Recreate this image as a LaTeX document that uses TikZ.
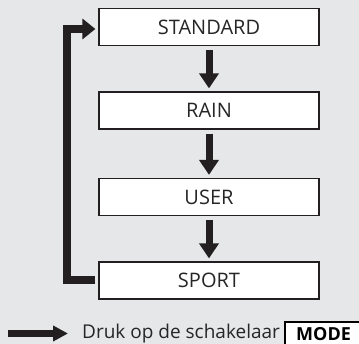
\documentclass[tikz,border=0pt]{standalone}
\usepackage{fontspec}
\setmainfont{Open Sans}
\usetikzlibrary{arrows.meta,calc}
\definecolor{bgc}{HTML}{E6E7E8}
\definecolor{ink}{HTML}{231F20}
\begin{document}
\begin{tikzpicture}[x=1pt,y=-1pt,
  modebox/.style={draw=ink,fill=white,line width=1.2pt,minimum width=220pt,minimum height=37pt,inner sep=0pt,
    font=\fontsize{20}{22}\selectfont,text=black!85},
  fat/.style={draw=ink,line width=7pt,-{Triangle[width=19pt,length=15pt]}},
  loopline/.style={draw=ink,line width=8pt,line join=miter,-{Triangle[width=20pt,length=13pt]}}]
\useasboundingbox (0,0) rectangle (359,344);
\clip (0,0) rectangle (359,344);
\fill[bgc] (0,0) rectangle (359,344);
\node[modebox] (std) at (209,27) {STANDARD};
\node[modebox] (rain) at (209,110.5) {RAIN};
\node[modebox] (user) at (209,197) {USER};
\node[modebox] (sport) at (209,280.5) {SPORT};
\draw[fat] ([yshift=-4pt]std.south) -- ([yshift=3pt]rain.north);
\draw[fat] ([yshift=-4pt]rain.south) -- ([yshift=3pt]user.north);
\draw[fat] ([yshift=-4pt]user.south) -- ([yshift=3pt]sport.north);
\draw[loopline] ([xshift=-3pt]sport.west) -- ++(-28pt,0) |- ([xshift=-3pt,yshift=-2pt]std.west);
\coordinate (la) at (8,333.5);
\coordinate (lb) at (68,333.5);
\draw[fat,-{Triangle[width=15pt,length=15pt]}] (la) -- (lb);
\node[anchor=base west,inner sep=0pt,font=\fontsize{19}{21}\selectfont,text=black!85] (legend) at (82,339) {Druk op de schakelaar};
\draw[draw=black,fill=white,line width=1.2pt] (285,322) rectangle (365,350);
\node[anchor=base west,inner sep=0pt,font=\fontsize{18}{20}\selectfont\bfseries] (mode) at (296,341) {MODE};
\end{tikzpicture}
\end{document}
